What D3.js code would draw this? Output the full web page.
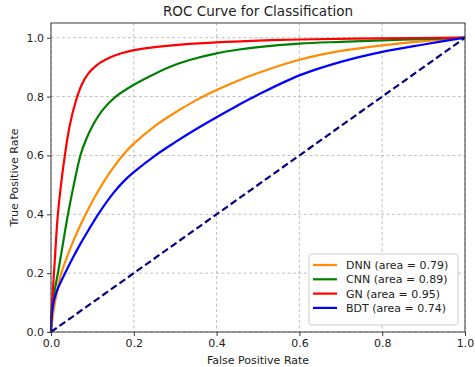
<!DOCTYPE html>
<html>
<head>
<meta charset="utf-8">
<script src="https://cdn.jsdelivr.net/npm/d3@7"></script>
<style>
  html, body { margin: 0; padding: 0; background: #fff; }
  svg { display: block; font-family: "DejaVu Sans", sans-serif; }
</style>
</head>
<body>
<svg id="chart" width="475" height="367"></svg>
<script>
// ---- data ----
const xTicks = [0.0, 0.2, 0.4, 0.6, 0.8, 1.0];
const yTicks = [0.0, 0.2, 0.4, 0.6, 0.8, 1.0];

const dnnFpr = [0, 0.003, 0.007, 0.015, 0.025, 0.04, 0.055, 0.07, 0.09, 0.105, 0.125, 0.15, 0.175, 0.2, 0.25, 0.3, 0.35, 0.4, 0.45, 0.5, 0.6, 0.7, 0.8, 0.9, 1];
const dnnTpr = [0, 0.04, 0.08, 0.14, 0.2, 0.26, 0.313, 0.36, 0.417, 0.457, 0.505, 0.558, 0.603, 0.64, 0.699, 0.746, 0.787, 0.822, 0.853, 0.88, 0.925, 0.955, 0.974, 0.988, 1];

const cnnFpr = [0, 0.001, 0.004, 0.01, 0.018, 0.03, 0.041, 0.055, 0.072, 0.085, 0.102, 0.125, 0.155, 0.2, 0.25, 0.3, 0.35, 0.4, 0.45, 0.5, 0.6, 0.7, 0.8, 0.9, 1];
const cnnTpr = [0, 0.05, 0.1, 0.15, 0.21, 0.31, 0.4, 0.5, 0.605, 0.655, 0.705, 0.755, 0.798, 0.84, 0.877, 0.908, 0.93, 0.947, 0.959, 0.968, 0.98, 0.986, 0.991, 0.995, 1];

const gnFpr = [0, 0.001, 0.004, 0.009, 0.016, 0.025, 0.034, 0.045, 0.06, 0.075, 0.09, 0.105, 0.12, 0.14, 0.17, 0.2, 0.25, 0.3, 0.4, 0.5, 0.6, 0.8, 1];
const gnTpr = [0, 0.06, 0.13, 0.24, 0.39, 0.51, 0.605, 0.7, 0.785, 0.843, 0.878, 0.9, 0.916, 0.931, 0.947, 0.958, 0.968, 0.975, 0.984, 0.99, 0.994, 0.998, 1];

const bdtFpr = [0, 0.002, 0.006, 0.013, 0.022, 0.034, 0.05, 0.07, 0.09, 0.114, 0.15, 0.175, 0.2, 0.25, 0.3, 0.35, 0.4, 0.45, 0.5, 0.6, 0.7, 0.8, 0.9, 1];
const bdtTpr = [0, 0.06, 0.1, 0.135, 0.165, 0.2, 0.245, 0.297, 0.345, 0.4, 0.471, 0.511, 0.543, 0.598, 0.645, 0.689, 0.73, 0.769, 0.806, 0.872, 0.918, 0.952, 0.977, 1];

const chanceFpr = [0, 1];
const chanceTpr = [0, 1];

const seriesNames = ["DNN", "CNN", "GN", "BDT"];
const seriesAreas = [0.79, 0.89, 0.95, 0.74];
const seriesColors = ["#ff8c00", "#008000", "#ff0000", "#0000ff"];

// ---- layout ----
const svg = d3.select("#chart");
const pLeft = 51, pRight = 465, pTop = 23, pBottom = 332;

const x = d3.scaleLinear().domain([0, 1]).range([pLeft, pRight]);
const y = d3.scaleLinear().domain([0, 1.05]).range([pBottom, pTop]);

// grid
const grid = svg.append("g");
grid.selectAll(".gx").data(xTicks).enter().append("line")
  .attr("x1", d => x(d)).attr("x2", d => x(d))
  .attr("y1", pTop).attr("y2", pBottom)
  .attr("stroke", "#b0b0b0").attr("stroke-width", 0.8).attr("stroke-dasharray", "3,2.5");
grid.selectAll(".gy").data(yTicks).enter().append("line")
  .attr("x1", pLeft).attr("x2", pRight)
  .attr("y1", d => y(d)).attr("y2", d => y(d))
  .attr("stroke", "#b0b0b0").attr("stroke-width", 0.8).attr("stroke-dasharray", "3,2.5");

// curves
const line = d3.line().x(d => x(d[0])).y(d => y(d[1])).curve(d3.curveCatmullRom.alpha(0.5));
const zip = (a, b) => a.map((v, i) => [v, b[i]]);
const series = [
  zip(dnnFpr, dnnTpr),
  zip(cnnFpr, cnnTpr),
  zip(gnFpr, gnTpr),
  zip(bdtFpr, bdtTpr)
];

const plot = svg.append("g");
series.forEach((pts, i) => {
  plot.append("path").datum(pts)
    .attr("d", line)
    .attr("fill", "none")
    .attr("stroke", seriesColors[i])
    .attr("stroke-width", 2.2)
    .attr("stroke-linejoin", "round");
});
plot.append("path").datum(zip(chanceFpr, chanceTpr))
  .attr("d", d3.line().x(d => x(d[0])).y(d => y(d[1])))
  .attr("fill", "none")
  .attr("stroke", "#000080")
  .attr("stroke-width", 2.2)
  .attr("stroke-dasharray", "7,3.5");

// frame
svg.append("rect")
  .attr("x", pLeft).attr("y", pTop)
  .attr("width", pRight - pLeft).attr("height", pBottom - pTop)
  .attr("fill", "none").attr("stroke", "#3a3a3a").attr("stroke-width", 1);

// axes
const xAxis = svg.append("g").attr("transform", `translate(0,${pBottom})`)
  .call(d3.axisBottom(x).tickValues(xTicks).tickFormat(d3.format(".1f")).tickSize(4).tickPadding(3));
const yAxis = svg.append("g").attr("transform", `translate(${pLeft},0)`)
  .call(d3.axisLeft(y).tickValues(yTicks).tickFormat(d3.format(".1f")).tickSize(4).tickPadding(3));
[xAxis, yAxis].forEach(a => {
  a.select(".domain").remove();
  a.selectAll(".tick line").attr("stroke", "#3a3a3a");
  a.selectAll(".tick text").attr("fill", "#222").style("font-size", "11px")
    .style("font-family", "'DejaVu Sans', sans-serif");
});

// labels
svg.append("text").attr("x", (pLeft + pRight) / 2).attr("y", 16)
  .attr("text-anchor", "middle").style("font-size", "13.5px").attr("fill", "#222")
  .text("ROC Curve for Classification");
svg.append("text").attr("x", (pLeft + pRight) / 2).attr("y", 364)
  .attr("text-anchor", "middle").style("font-size", "11px").attr("fill", "#222")
  .text("False Positive Rate");
svg.append("text")
  .attr("transform", `translate(18,${(pTop + pBottom) / 2}) rotate(-90)`)
  .attr("text-anchor", "middle").style("font-size", "11px").attr("fill", "#222")
  .text("True Positive Rate");

// legend
const lg = svg.append("g");
lg.append("rect").attr("x", 309).attr("y", 254).attr("width", 149).attr("height", 71)
  .attr("rx", 3).attr("fill", "#fff").attr("fill-opacity", 0.85)
  .attr("stroke", "#ccc").attr("stroke-width", 1);
seriesNames.forEach((name, i) => {
  const cy = 265 + i * 14.3;
  lg.append("line").attr("x1", 313).attr("x2", 337).attr("y1", cy).attr("y2", cy)
    .attr("stroke", seriesColors[i]).attr("stroke-width", 2.2);
  lg.append("text").attr("x", 346).attr("y", cy + 4)
    .style("font-size", "11px").attr("fill", "#222")
    .text(`${name} (area = ${seriesAreas[i].toFixed(2)})`);
});
</script>
</body>
</html>
